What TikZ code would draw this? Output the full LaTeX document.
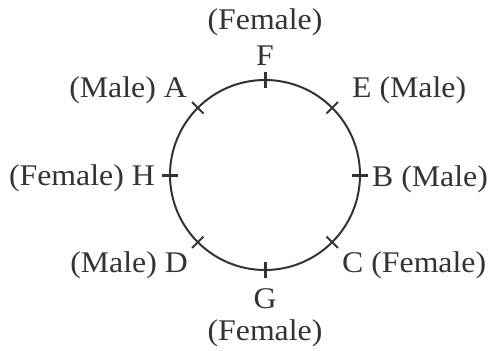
\documentclass[tikz,border=0pt]{standalone}
\usepackage{fontspec}
\setmainfont[FakeStretch=1.06]{Liberation Serif}
\usetikzlibrary{calc}
\begin{document}
\begin{tikzpicture}[x=1pt,y=-1pt,
  lbl/.style={inner sep=0pt, text=black!80, font=\fontsize{30}{36}\selectfont},
  majortick/.style={draw=black!80, line width=3pt},
  minortick/.style={draw=black!80, line width=1.8pt}]
\useasboundingbox (0,0) rectangle (488,351);
\coordinate (O) at (265,175);
\draw[black!80, line width=2pt] (O) circle[radius=95];
\coordinate (F) at (265,80);
\coordinate (B) at (360,175);
\coordinate (H) at (170,175);
\coordinate (G) at (265,270);
\coordinate (E) at (332.2,107.8);
\coordinate (A) at (197.8,107.8);
\coordinate (D) at (197.8,242.2);
\coordinate (C) at (332.2,242.2);
% major ticks
\draw[majortick] ($(F)+(0,-8)$) -- ($(F)+(0,8)$);
\draw[majortick] ($(G)+(0,-8)$) -- ($(G)+(0,8)$);
\draw[majortick] ($(H)+(-8,0)$) -- ($(H)+(8,0)$);
\draw[majortick] ($(B)+(-8,0)$) -- ($(B)+(8,0)$);
% minor ticks
\draw[minortick] ($(A)+(-5.7,-5.7)$) -- ($(A)+(5.7,5.7)$);
\draw[minortick] ($(C)+(-5.7,-5.7)$) -- ($(C)+(5.7,5.7)$);
\draw[minortick] ($(E)+(5.7,-5.7)$) -- ($(E)+(-5.7,5.7)$);
\draw[minortick] ($(D)+(5.7,-5.7)$) -- ($(D)+(-5.7,5.7)$);
% labels
\node[lbl, anchor=base] (Ftop) at (265,29) {(Female)};
\node[lbl, anchor=base] (Flbl) at (265,65) {F};
\node[lbl, anchor=base east] (Albl) at (187,97) {(Male) A};
\node[lbl, anchor=base west] (Elbl) at (352,97) {E (Male)};
\node[lbl, anchor=base east] (Hlbl) at (155,185) {(Female) H};
\node[lbl, anchor=base west] (Blbl) at (372,186) {B (Male)};
\node[lbl, anchor=base east] (Dlbl) at (188,272) {(Male) D};
\node[lbl, anchor=base west] (Clbl) at (342,272) {C (Female)};
\node[lbl, anchor=base] (Glbl) at (265,308) {G};
\node[lbl, anchor=base] (Gbot) at (265,340) {(Female)};
\end{tikzpicture}
\end{document}
